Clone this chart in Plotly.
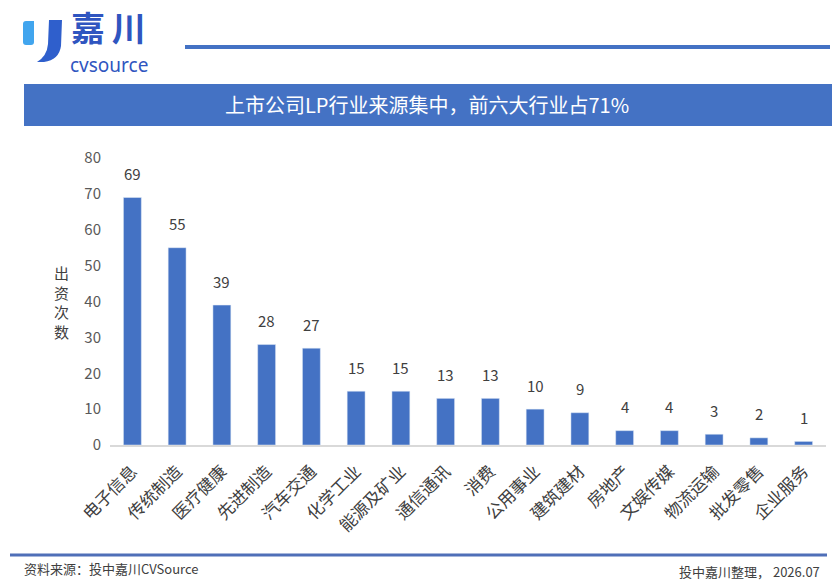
import plotly.graph_objects as go

categories = ["电子信息", "传统制造", "医疗健康", "先进制造", "汽车交通", "化学工业", "能源及矿业",
              "通信通讯", "消费", "公用事业", "建筑建材", "房地产", "文娱传媒", "物流运输", "批发零售", "企业服务"]
values = [69, 55, 39, 28, 27, 15, 15, 13, 13, 10, 9, 4, 4, 3, 2, 1]
y_ticks = [0, 10, 20, 30, 40, 50, 60, 70, 80]

title_text = "上市公司LP行业来源集中，前六大行业占71%"
y_title = "出资次数"
source_text = "资料来源：投中嘉川CVSource"
right_note = "投中嘉川整理， 2026.07"

BLUE = "#4472C4"
FONT = "Noto Sans CJK SC"
W, H = 832, 586
L, R, T, B = 110, 6, 158, 141
PW, PH = W - L - R, H - T - B


def px_x(x):
    return (x - L) / PW


def px_y(y):
    return (H - B - y) / PH


fig = go.Figure(go.Bar(x=categories, y=values, marker_color=BLUE, width=0.4))

fig.update_layout(
    width=W, height=H, paper_bgcolor="white", plot_bgcolor="white",
    margin=dict(l=L, r=R, t=T, b=B),
    showlegend=False,
    font=dict(family=FONT),
)
fig.update_yaxes(range=[0, 80], tickvals=y_ticks, showgrid=False, zeroline=False,
                 showline=False, ticks="", tickfont=dict(size=15, color="#595959"),
                 ticklabelstandoff=8)
fig.update_xaxes(showline=True, linecolor="#D9D9D9", linewidth=1.5, ticks="",
                 tickangle=-45, tickfont=dict(size=17, color="#404040"),
                 ticklabelstandoff=8)

shapes = []
annotations = []
# value labels above bars
for c, v in zip(categories, values):
    annotations.append(dict(x=c, y=v, xref="x", yref="y", text=str(v), showarrow=False,
                            yanchor="middle", yshift=24,
                            font=dict(size=15, color="#404040", family=FONT)))
# top line
shapes.append(dict(type="line", xref="paper", yref="paper",
                   x0=px_x(185), x1=px_x(830), y0=px_y(47), y1=px_y(47),
                   line=dict(color=BLUE, width=4)))
# banner
shapes.append(dict(type="rect", xref="paper", yref="paper", x0=px_x(24), x1=px_x(834),
                   y0=px_y(126), y1=px_y(84), fillcolor=BLUE, line=dict(width=0), layer="below"))
# footer line
shapes.append(dict(type="line", xref="paper", yref="paper", x0=px_x(10), x1=px_x(827),
                   y0=px_y(555), y1=px_y(555), line=dict(color="#4F6FB8", width=3)))
# logo mark
shapes.append(dict(type="path", xref="paper", yref="paper",
                   path=(f"M {px_x(26)},{px_y(21)} L {px_x(34)},{px_y(21)} L {px_x(34)},{px_y(42)} "
                         f"Q {px_x(34)},{px_y(45)} {px_x(31)},{px_y(45)} L {px_x(26)},{px_y(45)} "
                         f"Q {px_x(23)},{px_y(45)} {px_x(23)},{px_y(42)} L {px_x(23)},{px_y(24)} "
                         f"Q {px_x(23)},{px_y(21)} {px_x(26)},{px_y(21)} Z"),
                   fillcolor="#41A5EE", line=dict(width=0)))
shapes.append(dict(type="path", xref="paper", yref="paper",
                   path=(f"M {px_x(49)},{px_y(20)} L {px_x(62)},{px_y(20)} L {px_x(61)},{px_y(46)} "
                         f"Q {px_x(59)},{px_y(60)} {px_x(44)},{px_y(62)} L {px_x(37)},{px_y(62)} "
                         f"Q {px_x(47)},{px_y(56)} {px_x(48)},{px_y(44)} Z"),
                   fillcolor="#2F5FCC", line=dict(width=0)))
fig.update_layout(shapes=shapes)

annotations.append(dict(text="嘉\u2009川", xref="paper", yref="paper", x=px_x(69), y=px_y(53),
                        xanchor="left", yanchor="bottom", showarrow=False,
                        font=dict(size=34, color="#2F55C0", family=FONT, weight="bold")))
annotations.append(dict(text="cvsource", xref="paper", yref="paper", x=px_x(68), y=px_y(50),
                        xanchor="left", yanchor="top", showarrow=False,
                        font=dict(size=19, color="#2F55C0", family="Noto Sans")))
annotations.append(dict(text=title_text, xref="paper", yref="paper", x=px_x(427), y=px_y(105),
                        xanchor="center", yanchor="middle", showarrow=False,
                        font=dict(size=20, color="white", family=FONT)))
annotations.append(dict(text="<br>".join(list(y_title)), xref="paper", yref="paper",
                        x=px_x(61), y=px_y(302), xanchor="center", yanchor="middle",
                        showarrow=False, font=dict(size=15, color="#404040", family=FONT)))
annotations.append(dict(text=source_text, xref="paper", yref="paper", x=px_x(22), y=px_y(568),
                        xanchor="left", yanchor="middle", showarrow=False,
                        font=dict(size=13, color="#404040", family=FONT)))
annotations.append(dict(text=right_note, xref="paper", yref="paper", x=px_x(822), y=px_y(571),
                        xanchor="right", yanchor="middle", showarrow=False,
                        font=dict(size=13, color="#404040", family=FONT)))
fig.update_layout(annotations=annotations)

fig.write_html("out.html")
